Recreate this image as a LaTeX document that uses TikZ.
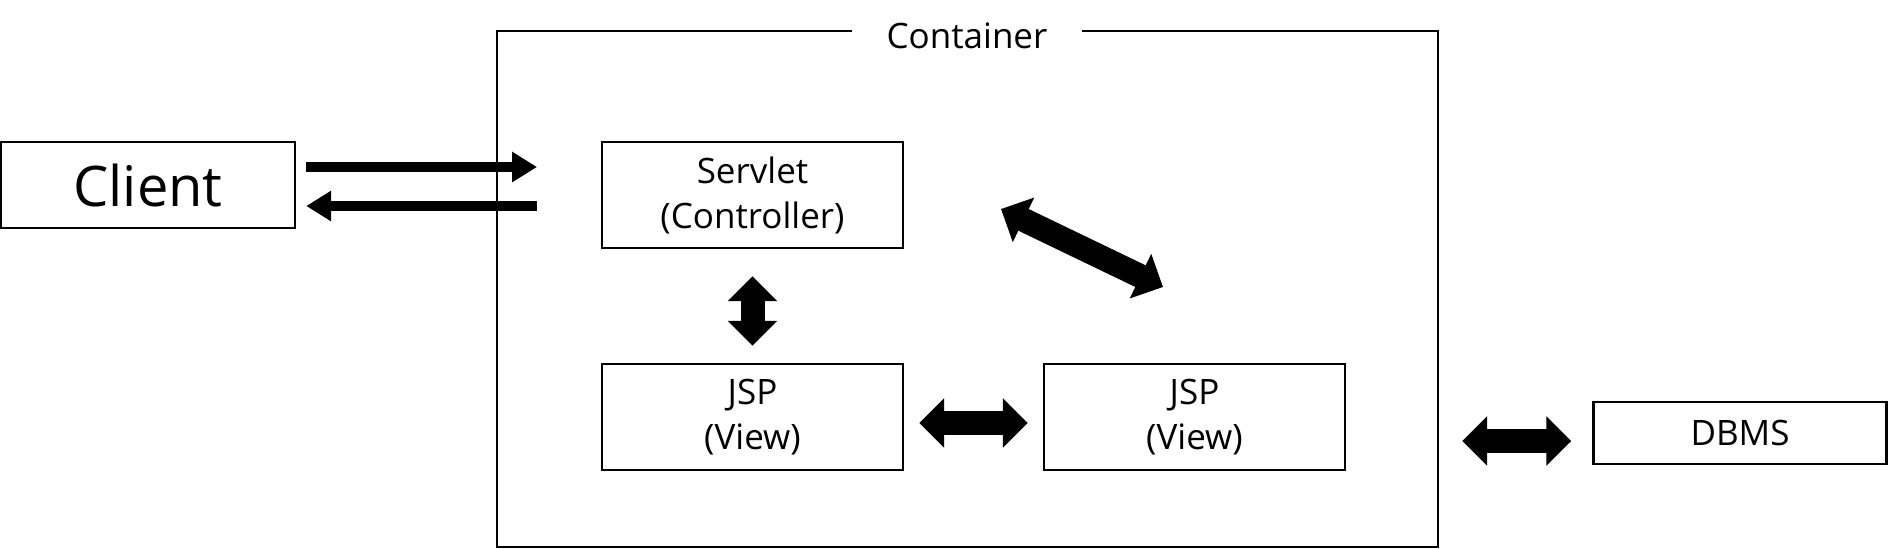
\documentclass[tikz,border=0pt]{standalone}
\usepackage{fontspec}
\setmainfont{Open Sans}
\usetikzlibrary{arrows.meta}

\begin{document}
\begin{tikzpicture}[x=0.5pt, y=-0.5pt, line width=1.2pt,
    box/.style = {draw, rectangle, align=center, inner sep=0pt, font=\fontsize{17.5}{22.5}\selectfont, minimum width=150.5pt, minimum height=53pt},
    arr/.style = {line width=5pt, -{Triangle[length=12.5pt, width=14.5pt]}},
    fat/.style = {line width=12pt, {Triangle[length=12.5pt, width=24pt]}-{Triangle[length=12.5pt, width=24pt]}}]
    \useasboundingbox (0,0) rectangle (1888,548);

    \node[draw, inner sep=0pt, minimum width=470.5pt, minimum height=258pt] (container) at (967.5,289) {};
    \node[fill=white, inner xsep=17.5pt, inner ysep=2pt, anchor=base, font=\fontsize{17.5}{22.5}\selectfont] (title) at (967,48) {Container};

    \node[box, minimum width=147pt, minimum height=43pt, font=\fontsize{28}{34}\selectfont] (client) at (148,185) {Client};
    \node[box] (servlet) at (752.5,195) {Servlet\\(Controller)};
    \node[box] (jspA) at (752.5,417) {JSP\\(View)};
    \node[box] (jspB) at (1194.5,417) {JSP\\(View)};
    \node[box, minimum width=146.5pt, minimum height=31pt] (dbms) at (1740,433) {DBMS};

    \coordinate (req) at (537,167);
    \coordinate (res) at (537,206);
    \coordinate (diagA) at (1001,209);
    \coordinate (diagB) at (1163,287);
    \coordinate (dbmsIn) at ([yshift=-4pt]dbms.west);

    % request / response
    \draw[arr, shorten <=5pt] (client.east |- req) -- (req);
    \draw[arr, shorten >=5pt] (res) -- (client.east |- res);

    \draw[fat, shorten <=13.5pt, shorten >=8.5pt] (servlet) -- (jspA);
    \draw[fat, shorten <=7.5pt, shorten >=7.5pt] ([yshift=-3pt]jspA.east) -- ([yshift=-3pt]jspB.west);
    \draw[fat] (diagA) -- (diagB);
    \draw[fat, shorten <=11.5pt, shorten >=10.5pt] (container.east |- dbmsIn) -- (dbmsIn);
\end{tikzpicture}
\end{document}
